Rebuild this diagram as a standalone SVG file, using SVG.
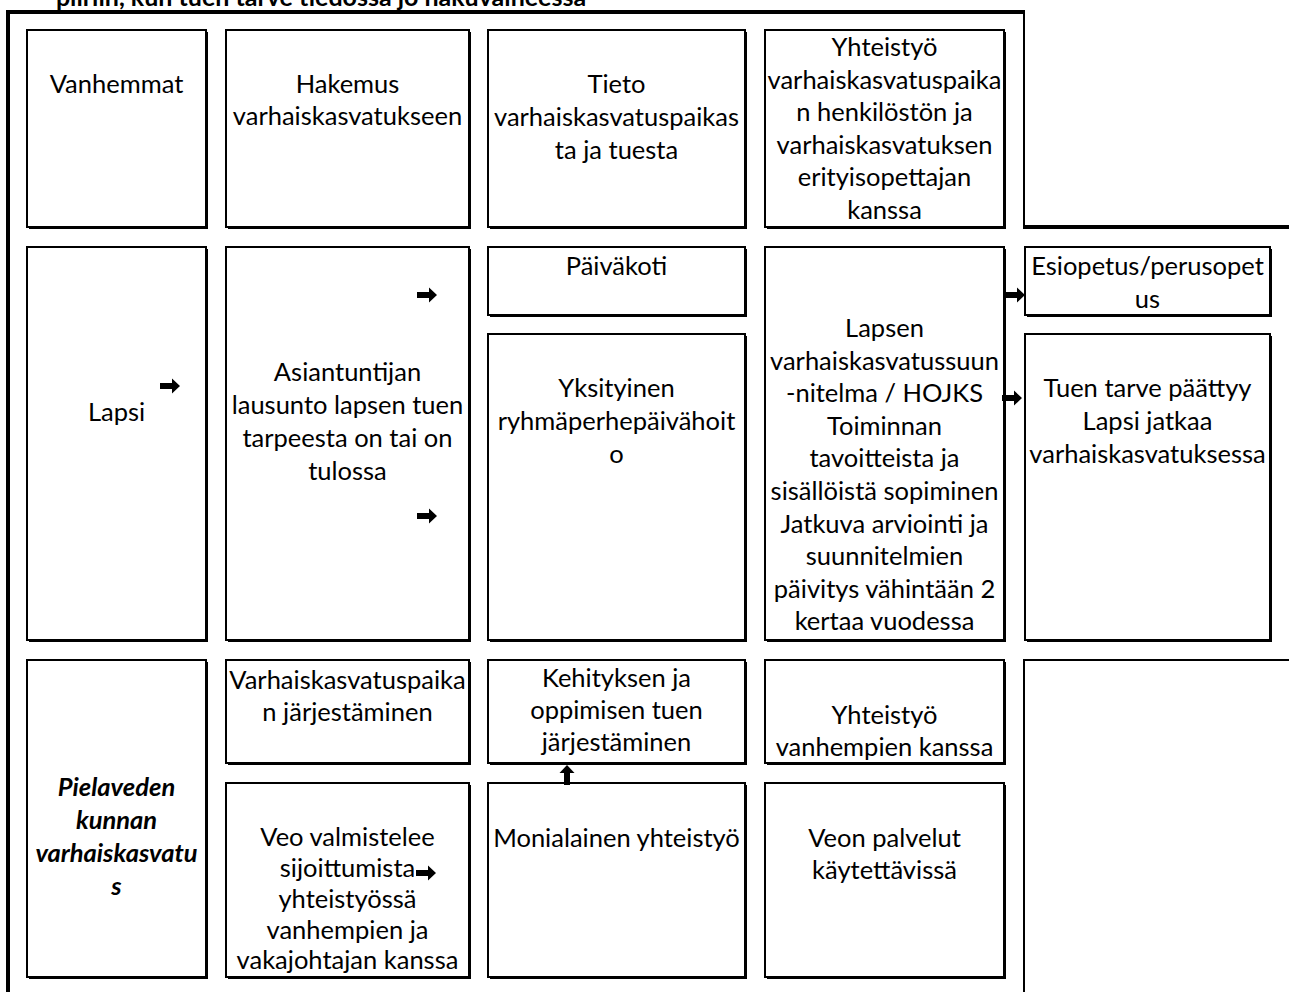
<svg xmlns="http://www.w3.org/2000/svg" xmlns:xlink="http://www.w3.org/1999/xlink" width="1289" height="992" viewBox="0 0 1289 992">
<style>
  .sh { fill:#000; }
  .box { fill:#fff; stroke:#000; stroke-width:2; }
  .frame { fill:none; stroke:#000; }
  text { font-family: Lato, "Open Sans", "Liberation Sans", sans-serif; font-size:25.5px; fill:#000; text-anchor:middle; }
  .bi { font-weight:bold; font-style:italic; }
  .title { font-weight:bold; font-size:25px; }
  .arrow { fill:#000; }
</style>
<defs>
  <path id="ar" d="M-20,-3 H-8 V-7.5 L0,0 L-8,7.5 V3 H-20 Z"/>
</defs>
<rect width="1289" height="992" fill="#fff"/>

<g id="title">
  <text class="title" x="321" y="6">piiriin, kun tuen tarve tiedossa jo hakuvaiheessa</text>
</g>

<g id="frame">
  <line class="frame" x1="8" y1="10" x2="8" y2="992" stroke-width="4"/>
  <line class="frame" x1="6" y1="12" x2="1025" y2="12" stroke-width="4"/>
  <line class="frame" x1="1024" y1="12" x2="1024" y2="227" stroke-width="2"/>
  <line class="frame" x1="1023" y1="227" x2="1289" y2="227" stroke-width="4"/>
  <polyline class="frame" points="1024,992 1024,660 1289,660" stroke-width="2"/>
</g>

<g id="n-vanhemmat">
  <rect class="sh" x="29" y="32" width="179" height="197"/>
  <rect class="box" x="27" y="30" width="179" height="197"/>
  <text x="116.5" y="93">Vanhemmat</text>
</g>
<g id="n-hakemus">
  <rect class="sh" x="228" y="32" width="243" height="197"/>
  <rect class="box" x="226" y="30" width="243" height="197"/>
  <text x="347.5" y="93">Hakemus</text>
  <text x="347.5" y="125">varhaiskasvatukseen</text>
</g>
<g id="n-tieto">
  <rect class="sh" x="490" y="32" width="257" height="197"/>
  <rect class="box" x="488" y="30" width="257" height="197"/>
  <text x="616.5" y="93">Tieto</text>
  <text x="616.5" y="126">varhaiskasvatuspaikas</text>
  <text x="616.5" y="159">ta ja tuesta</text>
</g>
<g id="n-yhteistyo-henkilosto">
  <rect class="sh" x="767" y="32" width="239" height="197"/>
  <rect class="box" x="765" y="30" width="239" height="197"/>
  <text x="884.5" y="56">Yhteistyö</text>
  <text x="884.5" y="89">varhaiskasvatuspaika</text>
  <text x="884.5" y="121">n henkilöstön ja</text>
  <text x="884.5" y="154">varhaiskasvatuksen</text>
  <text x="884.5" y="186">erityisopettajan</text>
  <text x="884.5" y="219">kanssa</text>
</g>

<g id="n-lapsi">
  <rect class="sh" x="29" y="249" width="179" height="393"/>
  <rect class="box" x="27" y="247" width="179" height="393"/>
  <text x="116.5" y="421">Lapsi</text>
</g>
<g id="n-asiantuntija">
  <rect class="sh" x="228" y="249" width="243" height="393"/>
  <rect class="box" x="226" y="247" width="243" height="393"/>
  <text x="347.5" y="381">Asiantuntijan</text>
  <text x="347.5" y="414">lausunto lapsen tuen</text>
  <text x="347.5" y="447">tarpeesta on tai on</text>
  <text x="347.5" y="480">tulossa</text>
</g>
<g id="n-paivakoti">
  <rect class="sh" x="490" y="249" width="257" height="68"/>
  <rect class="box" x="488" y="247" width="257" height="68"/>
  <text x="616.5" y="275">Päiväkoti</text>
</g>
<g id="n-yksityinen">
  <rect class="sh" x="490" y="336" width="257" height="306"/>
  <rect class="box" x="488" y="334" width="257" height="306"/>
  <text x="616.5" y="397">Yksityinen</text>
  <text x="616.5" y="430">ryhmäperhepäivähoit</text>
  <text x="616.5" y="463">o</text>
</g>
<g id="n-suunnitelma">
  <rect class="sh" x="767" y="249" width="239" height="393"/>
  <rect class="box" x="765" y="247" width="239" height="393"/>
  <text x="884.5" y="337">Lapsen</text>
  <text x="884.5" y="370">varhaiskasvatussuun</text>
  <text x="884.5" y="402">-nitelma / HOJKS</text>
  <text x="884.5" y="435">Toiminnan</text>
  <text x="884.5" y="467">tavoitteista ja</text>
  <text x="884.5" y="500">sisällöistä sopiminen</text>
  <text x="884.5" y="533">Jatkuva arviointi ja</text>
  <text x="884.5" y="565">suunnitelmien</text>
  <text x="884.5" y="598">päivitys vähintään 2</text>
  <text x="884.5" y="630">kertaa vuodessa</text>
</g>
<g id="n-esiopetus">
  <rect class="sh" x="1027" y="249" width="245" height="68"/>
  <rect class="box" x="1025" y="247" width="245" height="68"/>
  <text x="1147.5" y="275">Esiopetus/perusopet</text>
  <text x="1147.5" y="308">us</text>
</g>
<g id="n-tuen-tarve">
  <rect class="sh" x="1027" y="336" width="245" height="306"/>
  <rect class="box" x="1025" y="334" width="245" height="306"/>
  <text x="1147.5" y="397">Tuen tarve päättyy</text>
  <text x="1147.5" y="430">Lapsi jatkaa</text>
  <text x="1147.5" y="463">varhaiskasvatuksessa</text>
</g>

<g id="n-pielavesi">
  <rect class="sh" x="29" y="662" width="179" height="317"/>
  <rect class="box" x="27" y="660" width="179" height="317"/>
  <text class="bi" x="116.5" y="796">Pielaveden</text>
  <text class="bi" x="116.5" y="829">kunnan</text>
  <text class="bi" x="116.5" y="862">varhaiskasvatu</text>
  <text class="bi" x="116.5" y="895">s</text>
</g>
<g id="n-paikan-jarjestaminen">
  <rect class="sh" x="228" y="662" width="243" height="103"/>
  <rect class="box" x="226" y="660" width="243" height="103"/>
  <text x="347.5" y="689">Varhaiskasvatuspaika</text>
  <text x="347.5" y="721">n järjestäminen</text>
</g>
<g id="n-tuen-jarjestaminen">
  <rect class="sh" x="490" y="662" width="257" height="103"/>
  <rect class="box" x="488" y="660" width="257" height="103"/>
  <text x="616.5" y="687">Kehityksen ja</text>
  <text x="616.5" y="719">oppimisen tuen</text>
  <text x="616.5" y="751">järjestäminen</text>
</g>
<g id="n-yhteistyo-vanhemmat">
  <rect class="sh" x="767" y="662" width="239" height="103"/>
  <rect class="box" x="765" y="660" width="239" height="103"/>
  <text x="884.5" y="724">Yhteistyö</text>
  <text x="884.5" y="756">vanhempien kanssa</text>
</g>
<g id="n-veo">
  <rect class="sh" x="228" y="785" width="243" height="194"/>
  <rect class="box" x="226" y="783" width="243" height="194"/>
  <text x="347.5" y="846">Veo valmistelee</text>
  <text x="347.5" y="877">sijoittumista</text>
  <text x="347.5" y="908">yhteistyössä</text>
  <text x="347.5" y="939">vanhempien ja</text>
  <text x="347.5" y="969">vakajohtajan kanssa</text>
</g>
<g id="n-monialainen">
  <rect class="sh" x="490" y="785" width="257" height="194"/>
  <rect class="box" x="488" y="783" width="257" height="194"/>
  <text x="616.5" y="847">Monialainen yhteistyö</text>
</g>
<g id="n-veon-palvelut">
  <rect class="sh" x="767" y="785" width="239" height="194"/>
  <rect class="box" x="765" y="783" width="239" height="194"/>
  <text x="884.5" y="847">Veon palvelut</text>
  <text x="884.5" y="879">käytettävissä</text>
</g>

<g id="connectors">
  <use class="arrow" xlink:href="#ar" x="180" y="386"/>
  <use class="arrow" xlink:href="#ar" x="437" y="295"/>
  <use class="arrow" xlink:href="#ar" x="437" y="516"/>
  <use class="arrow" xlink:href="#ar" x="1025" y="295"/>
  <use class="arrow" xlink:href="#ar" x="1022" y="398"/>
  <use class="arrow" xlink:href="#ar" x="436" y="873"/>
  <use class="arrow" xlink:href="#ar" transform="translate(567,765) rotate(-90)"/>
</g>
</svg>
